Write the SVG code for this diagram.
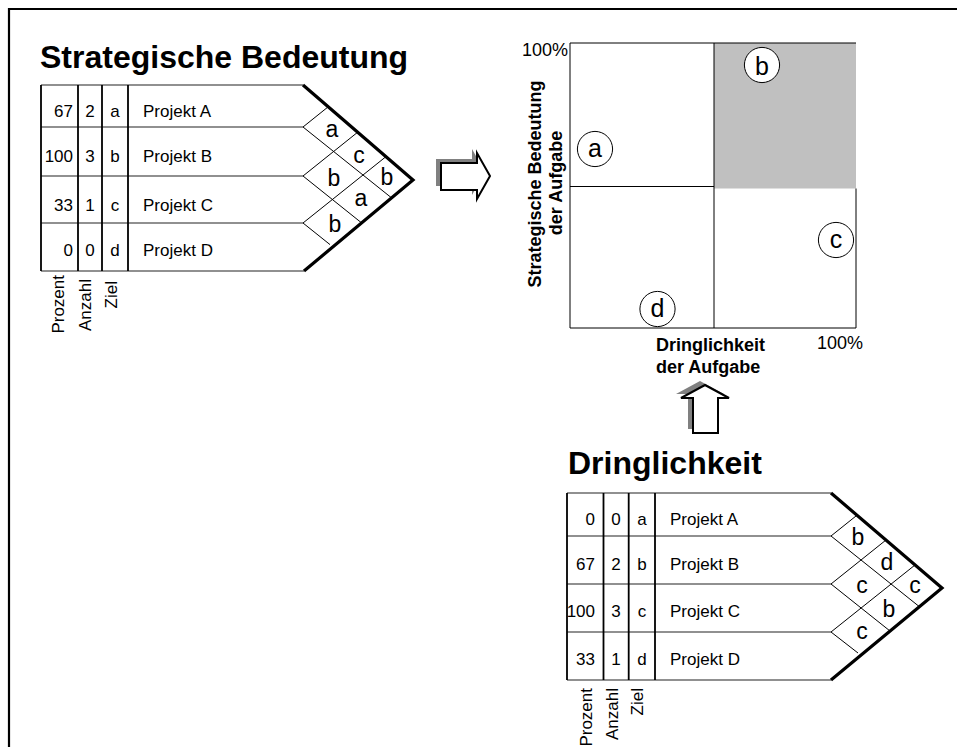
<svg xmlns="http://www.w3.org/2000/svg" width="957" height="747" viewBox="0 0 957 747">
<style>
text{font-family:"Liberation Sans",Arial,sans-serif;fill:#000}
.t17{font-size:17px}
.title{font-size:32px;font-weight:bold}
.ax{font-size:18px;font-weight:bold}
.lt{font-size:23px}
.cl{font-size:25px;text-anchor:middle}
.mid{text-anchor:middle}
.end{text-anchor:end}
.v{stroke:#000;stroke-width:1.8;fill:none}
.h{stroke:#222;stroke-width:1.2;fill:none}
.thin{stroke:#000;stroke-width:1;fill:none}
.thick{stroke:#000;stroke-width:3.2;fill:none;stroke-linejoin:miter}
.shadow{fill:#808080;stroke:none}
.arrow{fill:#fff;stroke:#000;stroke-width:2;stroke-linejoin:miter}
.circ{fill:#fff;stroke:#000;stroke-width:1}
</style>
<rect width="957" height="747" fill="#fff"/>
<g id="frame"><path d="M9,747 V9 H957" fill="none" stroke="#000" stroke-width="2.2"/></g>

<g id="node-strategische-bedeutung">
<text class="title" x="40" y="68">Strategische Bedeutung</text>
<path class="h" d="M41,85 H303 M41,127 H303 M41,176 H303 M41,223 H303 M41,271 H304"/>
<path class="v" d="M41,85 V271 M78,85 V271 M102,85 V271 M128,85 V271"/>
<path class="thick" d="M303,85 L413,180 L304,271"/>
<path class="thin" d="M303,127 L328.2,106.8 M303,127 L391.6,197.9 M303,176 L357.7,132.2 M303,176 L361.6,222.9 M303,223 L385.9,156.7 M303,223 L330,244.6"/>
<g class="t17">
<text class="end" x="73" y="117">67</text><text class="mid" x="90" y="117">2</text><text class="mid" x="115" y="117">a</text><text x="143" y="117">Projekt A</text>
<text class="end" x="73" y="162">100</text><text class="mid" x="90" y="162">3</text><text class="mid" x="115" y="162">b</text><text x="143" y="162">Projekt B</text>
<text class="end" x="73" y="211">33</text><text class="mid" x="90" y="211">1</text><text class="mid" x="115" y="211">c</text><text x="143" y="211">Projekt C</text>
<text class="end" x="73" y="256">0</text><text class="mid" x="90" y="256">0</text><text class="mid" x="115" y="256">d</text><text x="143" y="256">Projekt D</text>
<text class="end" transform="translate(64,275) rotate(-90)">Prozent</text>
<text class="end" transform="translate(91,279) rotate(-90)">Anzahl</text>
<text class="end" transform="translate(117,281) rotate(-90)">Ziel</text>
</g>
<g class="lt">
<text class="mid" x="332" y="137">a</text>
<text class="mid" x="359" y="163">c</text>
<text class="mid" x="334" y="186">b</text>
<text class="mid" x="387" y="185">b</text>
<text class="mid" x="361" y="206">a</text>
<text class="mid" x="335" y="232">b</text>
</g>
</g>

<g id="node-matrix">
<rect x="714" y="43" width="142" height="145.5" fill="#c0c0c0"/>
<path class="thin" d="M570,43 H856 M570,43 V328 H856 V188.5 M714,43 V328 M570,186.5 H714"/>
<text class="end" x="568" y="56" style="font-size:18px">100%</text>
<text x="817" y="349" style="font-size:18px">100%</text>
<text class="ax mid" transform="translate(541,184) rotate(-90)">Strategische Bedeutung</text>
<text class="ax mid" transform="translate(562,183) rotate(-90)">der Aufgabe</text>
<text class="ax" x="656" y="351">Dringlichkeit</text>
<text class="ax" x="656" y="373">der Aufgabe</text>
<circle class="circ" cx="595" cy="149" r="17.6"/><text class="cl" x="595" y="157">a</text>
<circle class="circ" cx="762" cy="65" r="17.6"/><text class="cl" x="762" y="75">b</text>
<circle class="circ" cx="836" cy="240" r="17.6"/><text class="cl" x="836" y="248">c</text>
<circle class="circ" cx="657.5" cy="309" r="17.6"/><text class="cl" x="657.5" y="317">d</text>
</g>

<g id="node-dringlichkeit">
<text class="title" x="568" y="474">Dringlichkeit</text>
<path class="h" d="M567,493 H831 M567,536 H831 M567,584 H831 M567,632 H831 M567,680 H831"/>
<path class="v" d="M567,493 V680 M603.5,493 V680 M628.7,493 V680 M655,493 V680"/>
<path class="thick" d="M831,493 L942,588 L831,680"/>
<path class="thin" d="M831,536 L857,515.2 M831,536 L919.4,606.7 M831,584 L886,540 M831,584 L890,631 M831,632 L915,565 M831,632 L858,653"/>
<g class="t17">
<text class="end" x="595" y="525">0</text><text class="mid" x="616" y="525">0</text><text class="mid" x="642" y="525">a</text><text x="670" y="525">Projekt A</text>
<text class="end" x="595" y="570">67</text><text class="mid" x="616" y="570">2</text><text class="mid" x="642" y="570">b</text><text x="670" y="570">Projekt B</text>
<text class="end" x="595" y="617">100</text><text class="mid" x="616" y="617">3</text><text class="mid" x="642" y="617">c</text><text x="670" y="617">Projekt C</text>
<text class="end" x="595" y="665">33</text><text class="mid" x="616" y="665">1</text><text class="mid" x="642" y="665">d</text><text x="670" y="665">Projekt D</text>
<text class="end" transform="translate(592,688) rotate(-90)">Prozent</text>
<text class="end" transform="translate(617.5,688) rotate(-90)">Anzahl</text>
<text class="end" transform="translate(643,688) rotate(-90)">Ziel</text>
</g>
<g class="lt">
<text class="mid" x="858" y="545">b</text>
<text class="mid" x="887" y="570">d</text>
<text class="mid" x="862" y="593">c</text>
<text class="mid" x="915" y="593">c</text>
<text class="mid" x="889" y="617">b</text>
<text class="mid" x="862" y="639">c</text>
</g>
</g>

<g id="connectors">
<polygon class="shadow" points="436,159 472,159 472,149 485,172 472,195 472,186 436,186"/>
<polygon class="arrow" points="441,163 477,163 477,153 490,176 477,199 477,190 441,190"/>
<polygon class="shadow" points="700,381 724,394 713,394 713,429 688,429 688,394 676,394"/>
<polygon class="arrow" points="705,385 729,398 718,398 718,433 693,433 693,398 681,398"/>
</g>
</svg>
